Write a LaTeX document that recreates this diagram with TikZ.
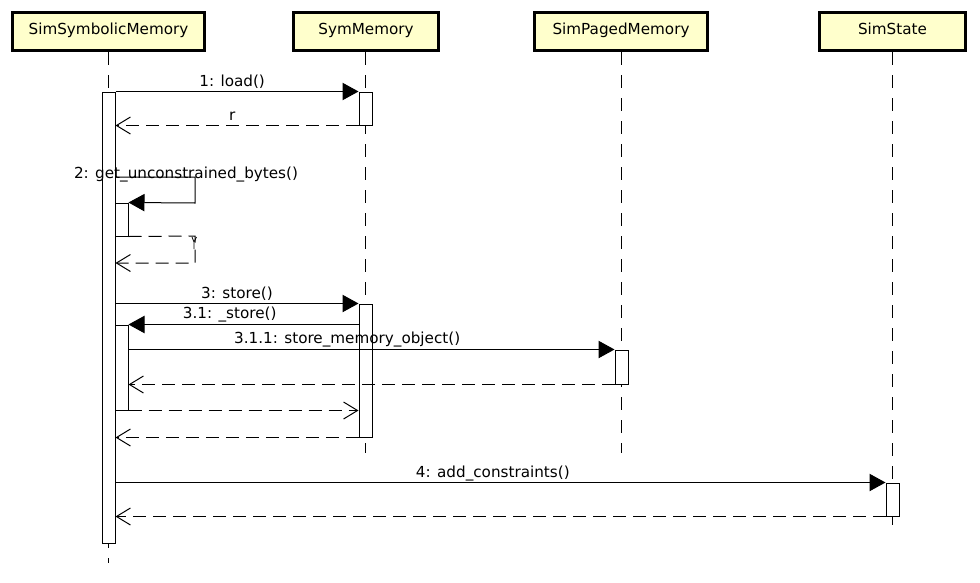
\documentclass[tikz,border=0pt]{standalone}
\usepackage{fontspec}
\setmainfont{DejaVu Sans}
\usetikzlibrary{arrows.meta}
\definecolor{hdrfill}{HTML}{FFFFCC}
\begin{document}
\begin{tikzpicture}[x=0.75pt,y=-0.75pt,
  txt/.style={font=\fontsize{11.4}{13.5}\selectfont},
  hdrbox/.style={txt, draw, line width=2.25pt, fill=hdrfill, minimum height=28.5pt, text height=7.5pt, text depth=3.75pt, inner xsep=0pt},
  act/.style={draw, fill=white, line width=0.75pt, inner sep=0pt, minimum width=9.75pt},
  life/.style={line width=0.75pt, dash pattern=on 9.75pt off 7.5pt},
  call/.style={line width=0.75pt, -{Triangle[length=12pt,width=13pt]}},
  ret/.style={line width=0.75pt, dash pattern=on 9.75pt off 5.25pt, -{Straight Barb[length=10.5pt,width=12.75pt,line width=0.75pt]}},
  lbl/.style={txt, anchor=base, inner sep=0pt, yshift=3.75pt}
]
\useasboundingbox (0,0) rectangle (980,582);
% headers
\node[hdrbox, minimum width=144pt]    (h1) at (108.5,31.5) {SimSymbolicMemory};
\node[hdrbox, minimum width=108.75pt] (h2) at (366,31.5)   {SymMemory};
\node[hdrbox, minimum width=129.75pt] (h3) at (621,31.5)   {SimPagedMemory};
\node[hdrbox, minimum width=109.5pt]  (h4) at (892.5,31.5) {SimState};
% lifeline ends
\coordinate (e1) at (108.5,563);
\coordinate (e2) at (365.5,453);
\coordinate (e3) at (621.5,453);
\coordinate (e4) at (892.5,535);
\draw[life] (h1.south -| e1) -- (e1);
\draw[life] (h2.south -| e2) -- (e2);
\draw[life] (h3.south -| e3) -- (e3);
\draw[life] (h4.south -| e4) -- (e4);
% activations
\node[act, minimum height=338.25pt] (A0) at (108.5,317.5) {};
\node[act, minimum height=24.75pt]  (S1) at (365.5,108.5) {};
\node[act, minimum height=24.75pt]  (A1) at (121.5,219.5) {};
\node[act, minimum height=99.75pt]  (S2) at (365.5,370.5) {};
\node[act, minimum height=63.75pt]  (A2) at (121.5,367.5) {};
\node[act, minimum height=25.5pt]   (P1) at (621.5,367) {};
\node[act, minimum height=24.75pt]  (T1) at (892.5,499.5) {};
% 1: load()
\draw[call] (A0.east |- S1.north) -- (S1.north west) node[lbl, pos=0.48] (l1) {1: load()};
\draw[ret] (S1.south west) -- (A0.east |- S1.south) node[lbl, pos=0.52] (lr) {r};
% 2: self call
\coordinate (c2a) at (195,177);
\coordinate (c2b) at (195,203);
\coordinate (c2c) at (195,236);
\coordinate (c2d) at (195,263);
\node[txt, anchor=base, inner sep=0pt] (l2) at (186,178) {2: get\_unconstrained\_bytes()};
\draw[call] (A0.east |- c2a) -- (c2a) -- (c2b) -- (A1.north east);
\draw[ret] (A1.south east) -- (c2c) -- (c2d) -- (A0.east |- c2d);
\draw[line width=0.6pt] (192,237) -- (194,242) -- (196.5,237) (194,242) -- (194,249);
% 3: store()
\draw[call] (A0.east |- S2.north) -- (S2.north west) node[lbl, midway] (l3) {3: store()};
\draw[call] (S2.west |- A2.north) -- (A2.north east) node[lbl, pos=0.56, yshift=0.75pt] (l31) {3.1: \_store()};
\draw[call] (A2.east |- P1.north) -- (P1.north west) node[lbl, pos=0.45, yshift=0.75pt] (l311) {3.1.1: store\_memory\_object()};
\draw[ret] (P1.south west) -- (A2.east |- P1.south);
\draw[ret] (A2.south east) -- (S2.west |- A2.south);
\draw[ret] (S2.south west) -- (A0.east |- S2.south);
% 4: add_constraints()
\draw[call] (A0.east |- T1.north) -- (T1.north west) node[lbl, pos=0.49] (l4) {4: add\_constraints()};
\draw[ret] (T1.south west) -- (A0.east |- T1.south);
\end{tikzpicture}
\end{document}
